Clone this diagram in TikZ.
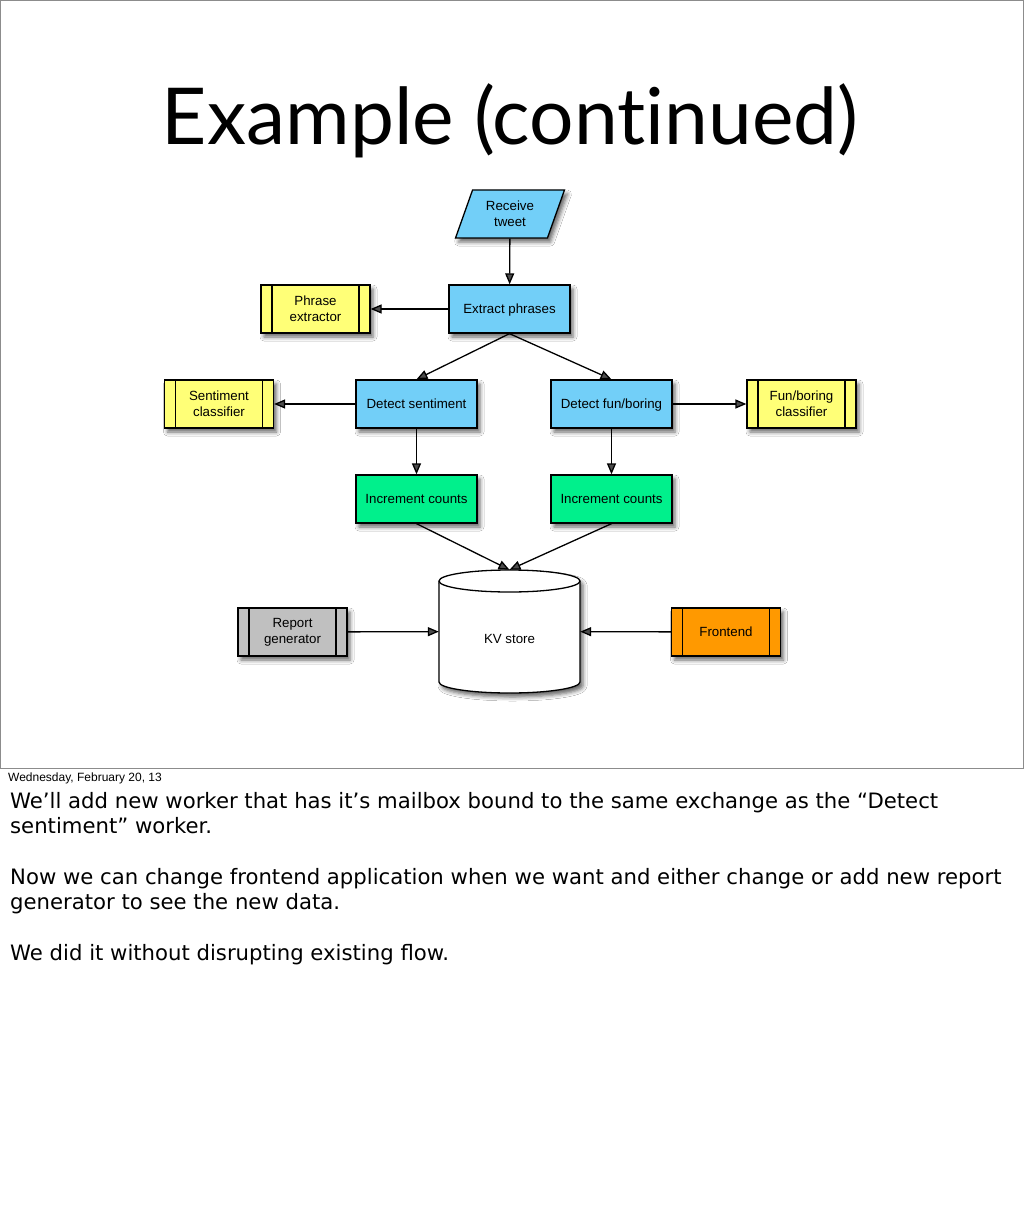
\documentclass[tikz,border=0pt]{standalone}
\usepackage{fontspec}
\setmainfont{Liberation Sans}
\newfontfamily\titlefont[Ligatures=NoCommon]{Lato}
\newfontfamily\notefont{DejaVu Sans}
\usetikzlibrary{arrows.meta,shadows.blur,shapes.geometric}
\definecolor{bluefill}{HTML}{72CFF8}
\definecolor{yellowfill}{HTML}{FFFF77}
\definecolor{greenfill}{HTML}{00F08C}
\definecolor{grayfill}{HTML}{C0C0C0}
\definecolor{orangefill}{HTML}{FF9900}
\tikzset{
  shd/.style={blur shadow={shadow xshift=3pt, shadow yshift=-4pt, shadow blur radius=4pt, shadow opacity=60}},
  boxbase/.style={draw, line width=1.3pt, minimum height=48pt, inner sep=0pt, align=center,
    font=\fontsize{13.3}{16}\selectfont, shd},
  proc/.style={boxbase, minimum width=121pt, text depth=0pt},
  sub/.style={boxbase, minimum width=109pt,
    path picture={
      \draw[line width=1.3pt] ([xshift=11pt]path picture bounding box.north west) -- ([xshift=11pt]path picture bounding box.south west);
      \draw[line width=1.3pt] ([xshift=-11pt]path picture bounding box.north east) -- ([xshift=-11pt]path picture bounding box.south east);
    }},
  arr/.style={-{Triangle[length=11pt,width=9pt]}, line width=1.3pt},
  noteline/.style={anchor=base west, inner sep=0pt, font=\notefont\fontsize{21.2}{24}\selectfont}
}
\begin{document}
\begin{tikzpicture}[x=1pt,y=-1pt]
\useasboundingbox (0,0) rectangle (1024,1230);
\fill[white] (0,0) rectangle (1024,1230);
\draw[black!45, line width=1pt] (0.5,0.5) rectangle (1023.5,768);

\node[anchor=base, inner sep=0pt, font=\titlefont\fontsize{78.5}{90}\selectfont] (title) at (510,145) {Example (continued)};

% nodes
\node[draw, line width=1.3pt, fill=bluefill, trapezium, trapezium left angle=67, trapezium right angle=113,
  trapezium stretches=true, minimum width=109pt, minimum height=48pt, inner sep=0pt, align=center,
  font=\fontsize{13.3}{16}\selectfont, shd] (rt) at (510,214) {Receive\\tweet};
\node[proc, fill=bluefill] (ep) at (509.5,309) {Extract phrases};
\node[sub, fill=yellowfill] (px) at (315.5,309) {Phrase\\extractor};
\node[proc, fill=bluefill] (ds) at (416.5,404) {Detect sentiment};
\node[proc, fill=bluefill] (df) at (611.5,404) {Detect fun/boring};
\node[sub, fill=yellowfill] (sc) at (219,404) {Sentiment\\classifier};
\node[sub, fill=yellowfill] (fc) at (801.5,404) {Fun/boring\\classifier};
\node[proc, fill=greenfill] (ic1) at (416.5,499) {Increment counts};
\node[proc, fill=greenfill] (ic2) at (611.5,499) {Increment counts};
\node[sub, fill=grayfill] (rg) at (292.5,632) {Report\\generator};
\node[sub, fill=orangefill, text depth=0pt] (fe) at (726,632) {Frontend};

% cylinder
\path[draw, fill=white, line width=1.3pt, shd] (439,581) -- (439,682)
  arc[start angle=180, end angle=360, x radius=70.5pt, y radius=11pt] -- (580,581)
  arc[start angle=0, end angle=180, x radius=70.5pt, y radius=11pt] -- cycle;
\draw[line width=1.3pt] (580,581) arc[start angle=0, end angle=-180, x radius=70.5pt, y radius=11pt];
\node[minimum width=141pt, minimum height=123pt, inner sep=0pt] (kv) at (509.5,631.5) {};
\node[inner sep=0pt, text depth=0pt, font=\fontsize{13.3}{16}\selectfont] (kvlabel) at (509.5,638.5) {KV store};

% connectors
\draw[arr] (rt) -- (ep);
\draw[arr] (ep) -- (px);
\draw[arr] (ep.south) -- (ds.north);
\draw[arr] (ep.south) -- (df.north);
\draw[arr] (ds) -- (sc);
\draw[arr] (df) -- (fc);
\draw[arr] (ds) -- (ic1);
\draw[arr] (df) -- (ic2);
\draw[arr] (ic1.south) -- (kv.north);
\draw[arr] (ic2.south) -- (kv.north);
\draw[arr] (rg) -- (kv);
\draw[arr] (fe) -- (kv);

% notes
\node[anchor=base west, inner sep=0pt, font=\fontsize{12}{14}\selectfont] (date) at (8,781) {Wednesday, February 20, 13};
\node[noteline] (n1) at (10,808) {We’ll add new worker that has it’s mailbox bound to the same exchange as the “Detect};
\node[noteline] (n2) at (10,833) {sentiment” worker.};
\node[noteline] (n3) at (10,884) {Now we can change frontend application when we want and either change or add new report};
\node[noteline] (n4) at (10,909) {generator to see the new data.};
\node[noteline] (n5) at (10,960) {We did it without disrupting existing flow.};
\end{tikzpicture}
\end{document}
